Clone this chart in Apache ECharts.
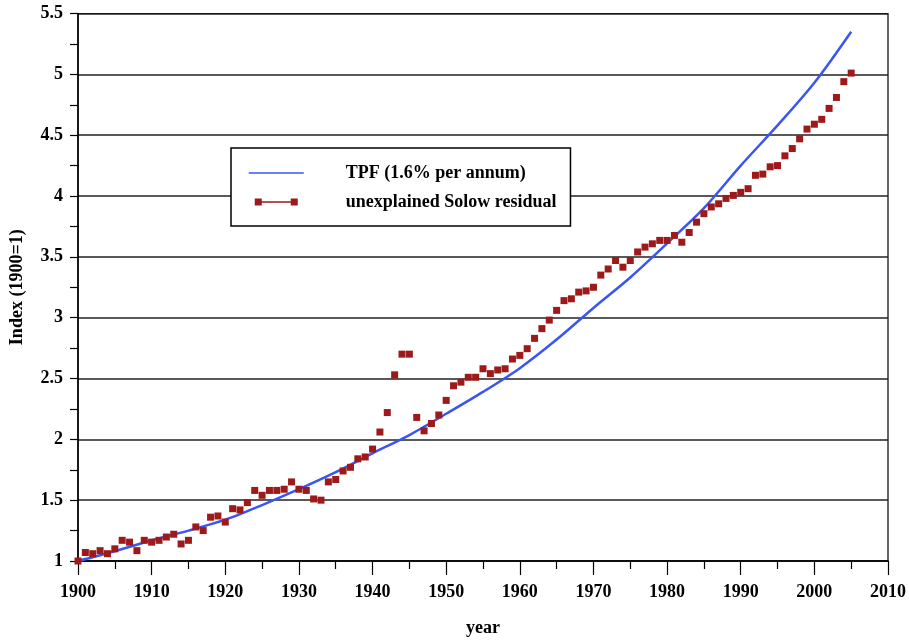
<!DOCTYPE html>
<html>
<head>
<meta charset="utf-8">
<script src="https://cdn.jsdelivr.net/npm/echarts@6/dist/echarts.min.js"></script>
<style>html,body{margin:0;padding:0;background:#fff}#c{width:909px;height:642px}</style>
</head>
<body>
<div id="c"></div>
<script>
var tpfYears = [1900,1905,1910,1915,1920,1925,1930,1935,1940,1945,1950,1955,1960,1965,1970,1975,1980,1985,1990,1995,2000,2005];
var tpfValues = [1.00,1.08,1.17,1.25,1.34,1.46,1.59,1.73,1.885,2.035,2.21,2.39,2.585,2.82,3.08,3.33,3.61,3.90,4.25,4.58,4.93,5.35];

var residualYears = [
1900,1901,1902,1903,1904,1905,1906,1907,1908,1909,
1910,1911,1912,1913,1914,1915,1916,1917,1918,1919,
1920,1921,1922,1923,1924,1925,1926,1927,1928,1929,
1930,1931,1932,1933,1934,1935,1936,1937,1938,1939,
1940,1941,1942,1943,1944,1945,1946,1947,1948,1949,
1950,1951,1952,1953,1954,1955,1956,1957,1958,1959,
1960,1961,1962,1963,1964,1965,1966,1967,1968,1969,
1970,1971,1972,1973,1974,1975,1976,1977,1978,1979,
1980,1981,1982,1983,1984,1985,1986,1987,1988,1989,
1990,1991,1992,1993,1994,1995,1996,1997,1998,1999,
2000,2001,2002,2003,2004,2005];
var residualValues = [
1.00,1.07,1.06,1.085,1.06,1.10,1.17,1.155,1.085,1.17,
1.155,1.17,1.197,1.22,1.14,1.17,1.28,1.25,1.36,1.37,
1.32,1.43,1.42,1.48,1.58,1.54,1.58,1.58,1.59,1.65,
1.59,1.58,1.51,1.50,1.65,1.67,1.74,1.77,1.84,1.855,
1.92,2.06,2.22,2.53,2.70,2.70,2.18,2.07,2.13,2.20,
2.32,2.44,2.47,2.51,2.51,2.58,2.54,2.57,2.58,2.66,
2.69,2.745,2.83,2.91,2.98,3.06,3.14,3.155,3.21,3.22,
3.25,3.35,3.40,3.47,3.415,3.47,3.54,3.58,3.607,3.635,
3.635,3.676,3.62,3.70,3.785,3.855,3.91,3.936,3.98,4.005,
4.03,4.06,4.17,4.18,4.24,4.25,4.33,4.39,4.47,4.55,
4.59,4.63,4.72,4.81,4.94,5.01];

var seriesNames = ['TPF (1.6% per annum)', 'unexplained Solow residual'];
var xLabel = 'year';
var yLabel = 'Index (1900=1)';

var FONT = 'Liberation Serif';
function pairs(xs, ys){ return xs.map(function(x,i){ return [x, ys[i]]; }); }

var chart = echarts.init(document.getElementById('c'), null, {renderer:'canvas'});
chart.setOption({
  animation: false,
  backgroundColor: '#fff',
  grid: {left: 78, right: 20, top: 13.5, bottom: 81, show: true, borderColor: '#000', borderWidth: 1.2, backgroundColor: 'transparent'},
  legend: {
    orient: 'vertical',
    left: 231, top: 148,
    padding: [16, 14, 15, 17],
    itemWidth: 55, itemHeight: 7, itemGap: 11,
    backgroundColor: '#fff',
    borderColor: '#000', borderWidth: 1.5,
    textStyle: {fontFamily: FONT, fontWeight: 'bold', fontSize: 18, color: '#000',
      rich: {t: {fontFamily: FONT, fontWeight: 'bold', fontSize: 18, color: '#000', padding: [0,0,0,37]}}},
    formatter: function(n){ return '{t|' + n + '}'; },
    data: [
      {name: seriesNames[0], lineStyle: {width: 1.5}, itemStyle: {opacity: 0}},
      {name: seriesNames[1], icon: 'path://M0,0L0.01,0ZM6,0h7v7h-7zM13,2.8h29v1.4h-29zM42,0h7v7h-7zM55,7L54.99,7Z'}
    ]
  },
  xAxis: {
    type: 'value', min: 1900, max: 2010, interval: 10,
    name: xLabel, nameLocation: 'middle', nameGap: 58,
    nameTextStyle: {fontFamily: FONT, fontWeight: 'bold', fontSize: 18, color: '#000'},
    axisLine: {lineStyle: {color: '#000', width: 1.5}},
    axisTick: {length: 14, lineStyle: {color: '#000', width: 1.2}},
    minorTick: {show: true, splitNumber: 2, length: 8, lineStyle: {color: '#000', width: 1.2}},
    splitLine: {show: false},
    axisLabel: {margin: 22, fontFamily: FONT, fontWeight: 'bold', fontSize: 18, color: '#000',
      formatter: function(v){ return String(v); }}
  },
  yAxis: {
    type: 'value', min: 1, max: 5.5, interval: 0.5,
    name: yLabel, nameLocation: 'middle', nameGap: 52, nameRotate: 90,
    nameTextStyle: {fontFamily: FONT, fontWeight: 'bold', fontSize: 18, color: '#000'},
    axisLine: {lineStyle: {color: '#000', width: 1.5}},
    axisTick: {length: 8, lineStyle: {color: '#000', width: 1.2}},
    minorTick: {show: true, splitNumber: 2, length: 8, lineStyle: {color: '#000', width: 1.2}},
    splitLine: {show: true, lineStyle: {color: '#222', width: 1.5}},
    axisLabel: {margin: 15, fontFamily: FONT, fontWeight: 'bold', fontSize: 18, color: '#000',
      formatter: function(v){ return String(v); }}
  },
  series: [
    {
      name: seriesNames[0], type: 'line', smooth: 0.3, symbol: 'none',
      data: pairs(tpfYears, tpfValues),
      lineStyle: {color: '#3a55f0', width: 2.5},
      itemStyle: {color: '#3a55f0'},
      z: 3
    },
    {
      name: seriesNames[1], type: 'scatter', symbol: 'rect', symbolSize: 7,
      data: pairs(residualYears, residualValues),
      itemStyle: {color: '#9e1a1a', opacity: 1},
      z: 4
    }
  ]
});
</script>
</body>
</html>
